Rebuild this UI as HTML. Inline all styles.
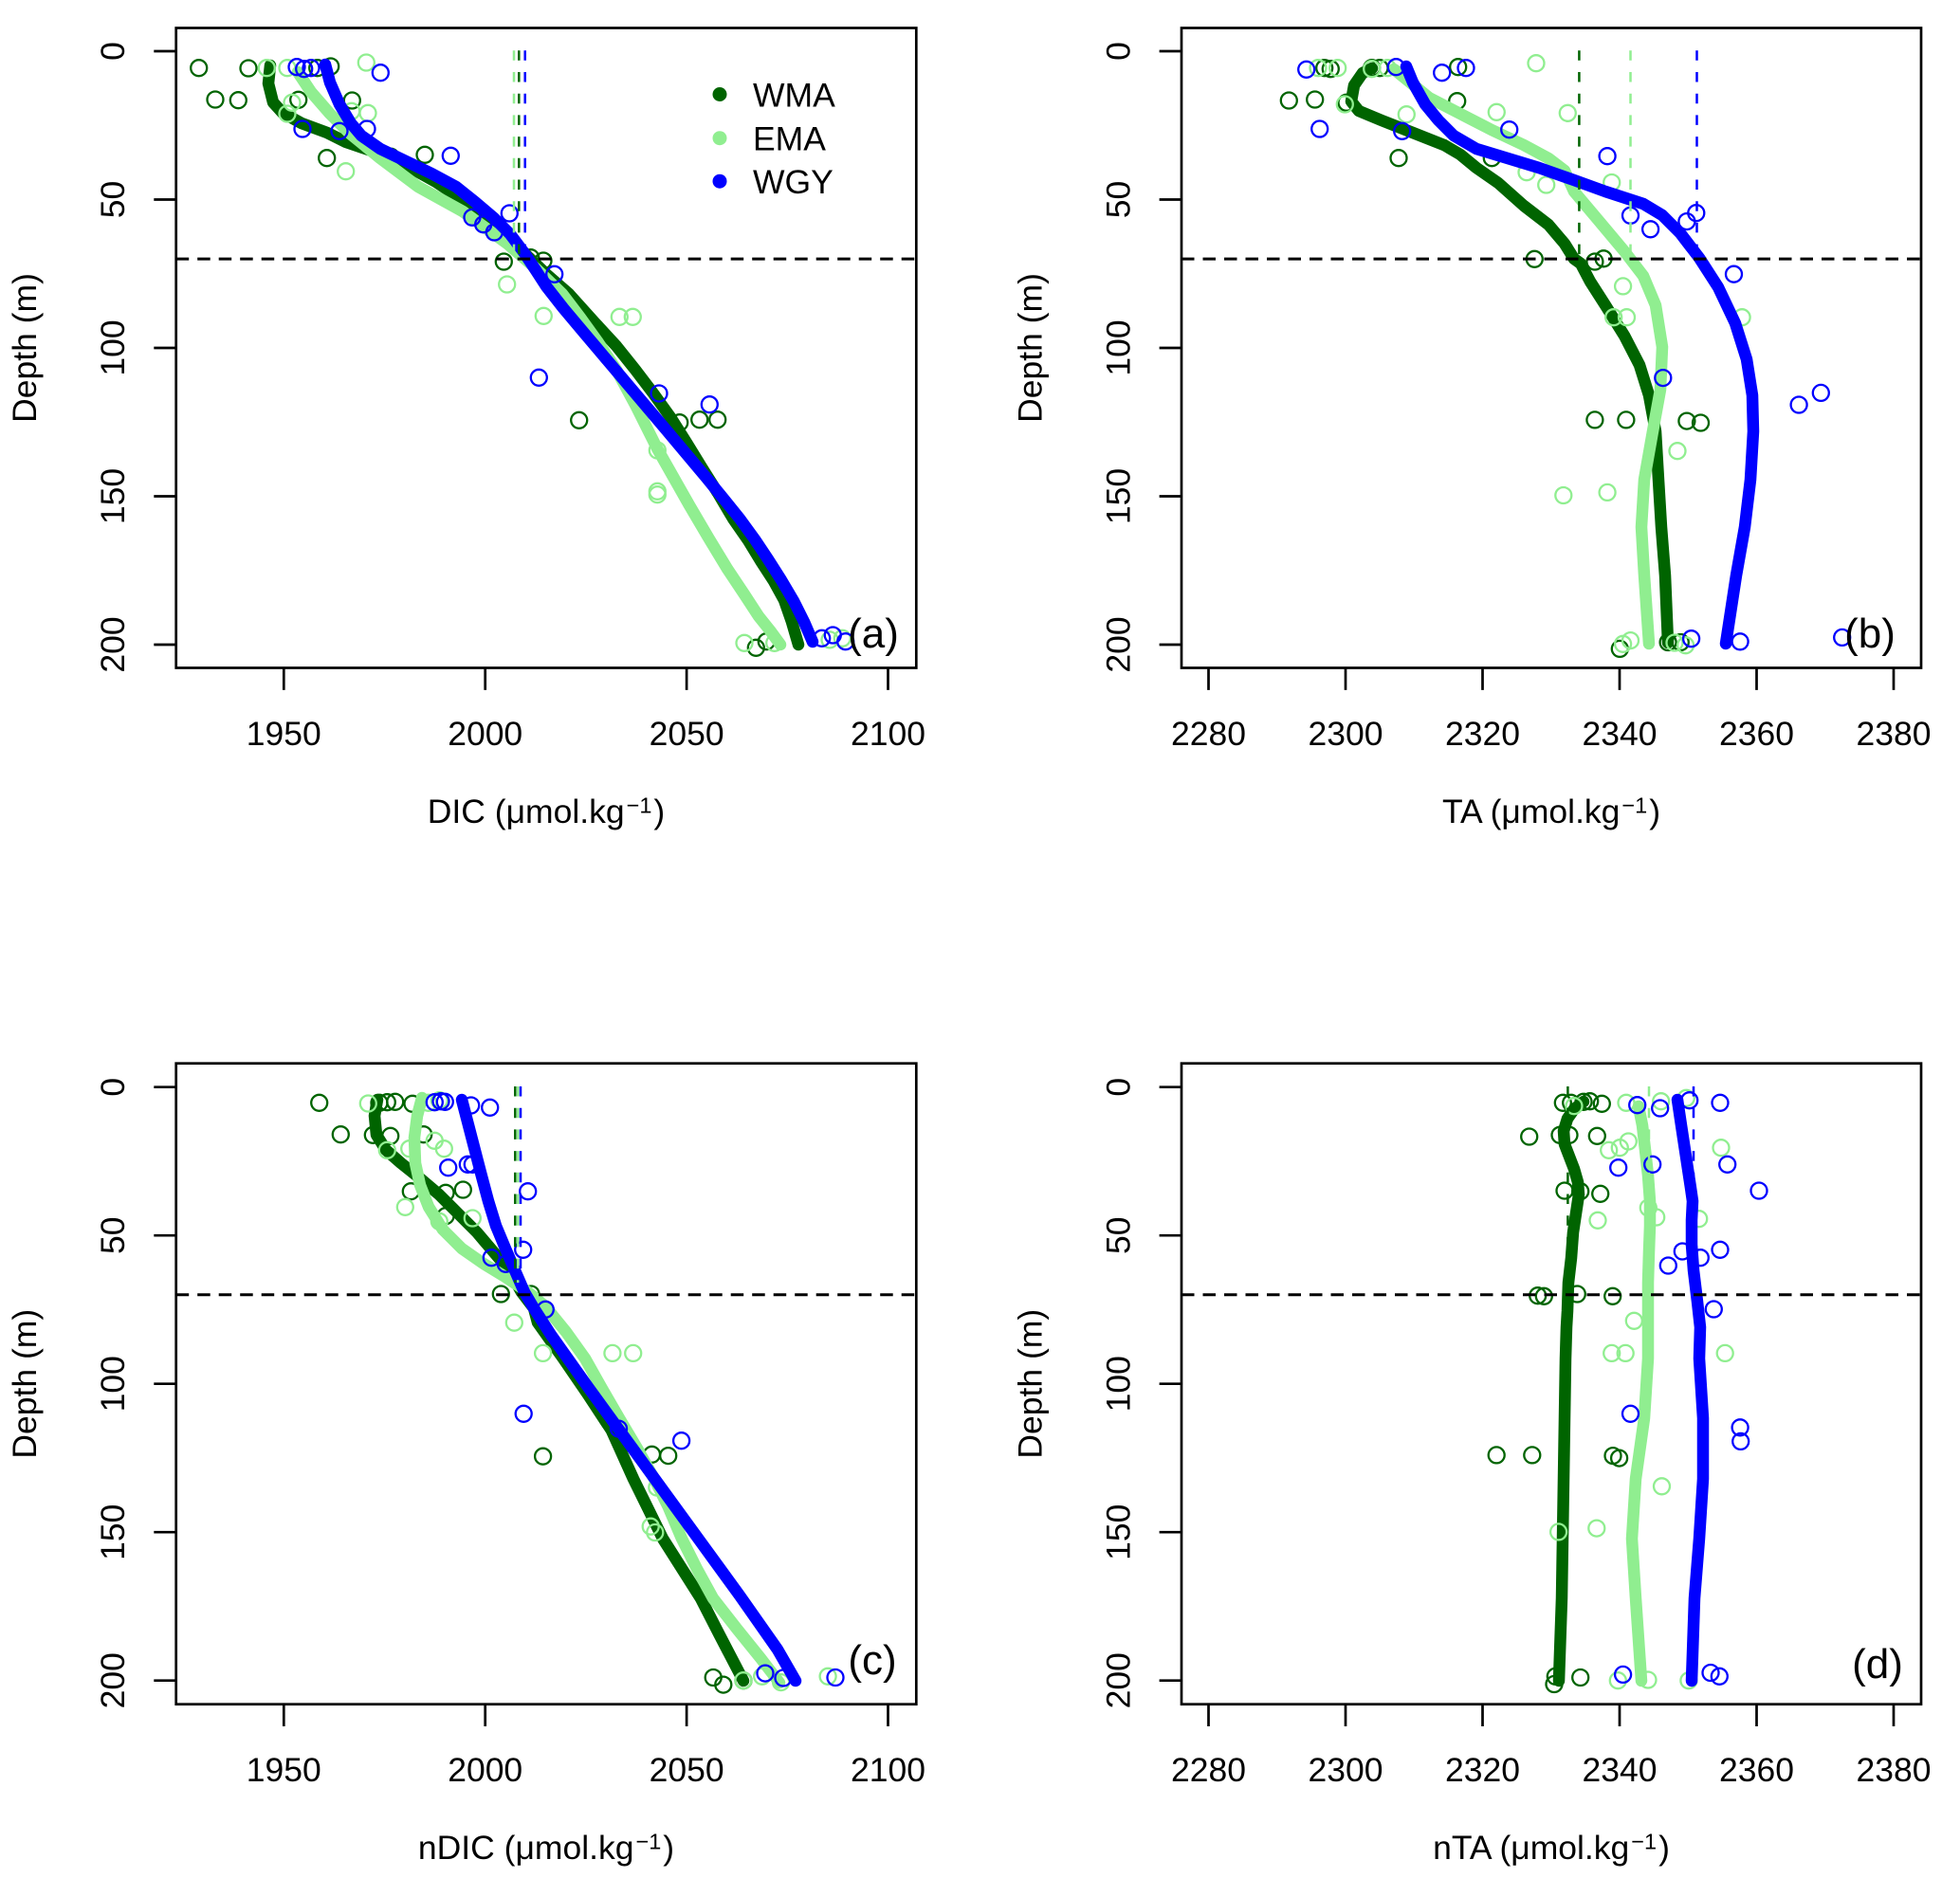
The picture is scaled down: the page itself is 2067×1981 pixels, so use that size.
<!DOCTYPE html>
<html><head><meta charset="utf-8"><style>
html,body{margin:0;padding:0;background:#fff}
svg{display:block}
text{font-family:"Liberation Sans",Arial,sans-serif;fill:#000}
.pdg{fill:none;stroke:#006400;stroke-width:2.3}
.plg{fill:none;stroke:#90EE90;stroke-width:2.3}
.pb{fill:none;stroke:#0000FF;stroke-width:2.3}
.cdg{fill:none;stroke:#006400;stroke-width:12.5;stroke-linecap:round;stroke-linejoin:round}
.clg{fill:none;stroke:#90EE90;stroke-width:12.5;stroke-linecap:round;stroke-linejoin:round}
.cb{fill:none;stroke:#0000FF;stroke-width:12.5;stroke-linecap:round;stroke-linejoin:round}
.hd{stroke:#000;stroke-width:3;stroke-dasharray:13.5 9;fill:none}
.vd{stroke-width:2.5;stroke-dasharray:10.5 12.2;fill:none}
.ax{stroke:#000;stroke-width:2.7;fill:none}
.tl{font-size:35.5px}
</style></head><body>
<svg width="2067" height="1981" viewBox="0 0 2067 1981" xmlns="http://www.w3.org/2000/svg">
<rect width="2067" height="1981" fill="#fff"/>

<!-- ================= PANEL A ================= -->
<g class="pdg">
<circle cx="209.7" cy="71.7" r="8.5"/><circle cx="262" cy="72" r="8.5"/><circle cx="334.7" cy="71.7" r="8.5"/><circle cx="348.7" cy="70" r="8.5"/>
<circle cx="227" cy="105" r="8.5"/><circle cx="251.3" cy="105.7" r="8.5"/><circle cx="314.7" cy="105.3" r="8.5"/><circle cx="371.3" cy="106" r="8.5"/>
<circle cx="344.7" cy="166.7" r="8.5"/><circle cx="448" cy="163.3" r="8.5"/><circle cx="412.2" cy="165.3" r="8.5"/>
<circle cx="531.3" cy="276" r="8.5"/><circle cx="559.7" cy="271.7" r="8.5"/><circle cx="573" cy="275" r="8.5"/>
<circle cx="610.7" cy="443.3" r="8.5"/><circle cx="716.7" cy="445.7" r="8.5"/><circle cx="737.7" cy="442.7" r="8.5"/><circle cx="756.7" cy="442.7" r="8.5"/>
<circle cx="797.3" cy="683.3" r="8.5"/><circle cx="808.3" cy="676.7" r="8.5"/>
</g>
<polyline class="cdg" points="285,69 283,88 288,108 298,119 318,130 345,140 365,150 415,167 460,192 505,222 531,245 553,267 577,290 600,310 627,340 650,365 670,390 689,415 707,440 724,467 740,493 757,520 773,547 789,570 803,593 816,613 827,633 835,656 842,680"/>
<g class="plg">
<circle cx="281.3" cy="71.7" r="8.5"/><circle cx="303" cy="71.7" r="8.5"/><circle cx="386.3" cy="66" r="8.5"/>
<circle cx="308" cy="108.3" r="8.5"/><circle cx="303" cy="120" r="8.5"/><circle cx="388" cy="119.3" r="8.5"/><circle cx="370.7" cy="117.3" r="8.5"/>
<circle cx="364.7" cy="180.7" r="8.5"/><circle cx="534.7" cy="300" r="8.5"/><circle cx="573.3" cy="333.3" r="8.5"/>
<circle cx="653.3" cy="334.3" r="8.5"/><circle cx="667.3" cy="334.3" r="8.5"/><circle cx="693.3" cy="475" r="8.5"/>
<circle cx="693.3" cy="518.3" r="8.5"/><circle cx="693.3" cy="521.7" r="8.5"/>
<circle cx="785" cy="678.3" r="8.5"/><circle cx="816.7" cy="678.3" r="8.5"/><circle cx="875" cy="674.9" r="8.5"/><circle cx="888.3" cy="673.3" r="8.5"/>
</g>
<polyline class="clg" points="314,76 328,97 348,120 368,140 401,167 441,197 488,223 535,257 565,283 593,310 612,335 630,360 650,390 670,427 693,473 710,503 727,533 747,567 767,600 785,627 800,650 812,665 823,680"/>
<g class="pb">
<circle cx="313" cy="70.7" r="8.5"/><circle cx="320.7" cy="72.7" r="8.5"/><circle cx="328" cy="71.7" r="8.5"/><circle cx="401.3" cy="76.7" r="8.5"/>
<circle cx="319" cy="136" r="8.5"/><circle cx="358" cy="138.3" r="8.5"/><circle cx="387" cy="136" r="8.5"/><circle cx="475.3" cy="164.3" r="8.5"/>
<circle cx="537.3" cy="225" r="8.5"/><circle cx="498" cy="229.3" r="8.5"/><circle cx="509.7" cy="236.7" r="8.5"/><circle cx="521.3" cy="245" r="8.5"/>
<circle cx="584.7" cy="289.3" r="8.5"/><circle cx="568.3" cy="398.3" r="8.5"/><circle cx="695" cy="415" r="8.5"/><circle cx="748.3" cy="426.7" r="8.5"/>
<circle cx="866.7" cy="673.3" r="8.5"/><circle cx="878.3" cy="670" r="8.5"/><circle cx="891.7" cy="676.7" r="8.5"/>
</g>
<polyline class="cb" points="343,68 348,87 358,110 370,130 381,143 401,157 428,170 455,183 481,197 501,213 521,230 538,247 553,267 565,285 576,302 594,325 615,350 637,376 659,402 681,428 703,454 724,479 745,504 763,526 780,547 796,569 810,590 824,612 837,634 848,656 857,677"/>
<line class="vd" x1="542" y1="53.3" x2="542" y2="273" stroke="#90EE90"/>
<line class="vd" x1="547.3" y1="53.3" x2="547.3" y2="273" stroke="#006400"/>
<line class="vd" x1="553.7" y1="53.3" x2="553.7" y2="273" stroke="#0000FF"/>
<line class="hd" x1="185.7" y1="273.1" x2="966.3" y2="273.1"/>
<rect class="ax" x="185.7" y="29.5" width="780.6" height="675"/>
<path class="ax" d="M299.3,704.5V727.9M511.7,704.5V727.9M724.1,704.5V727.9M936.5,704.5V727.9M162.3,54H185.7M162.3,210.5H185.7M162.3,367H185.7M162.3,523.5H185.7M162.3,680H185.7"/>
<g class="tl" text-anchor="middle">
<text x="299.3" y="786">1950</text><text x="511.7" y="786">2000</text><text x="724.1" y="786">2050</text><text x="936.5" y="786">2100</text>
<text x="131" y="54" transform="rotate(-90 131 54)">0</text>
<text x="131" y="210.5" transform="rotate(-90 131 210.5)">50</text>
<text x="131" y="367" transform="rotate(-90 131 367)">100</text>
<text x="131" y="523.5" transform="rotate(-90 131 523.5)">150</text>
<text x="131" y="680" transform="rotate(-90 131 680)">200</text>
<text x="38" y="367" transform="rotate(-90 38 367)">Depth (m)</text>
<text x="576" y="868">DIC (μmol.kg<tspan dx="2" dy="-10.5" font-size="23.5">−1</tspan><tspan dx="2" dy="10.5">)</tspan></text>
</g>
<text x="921" y="683" font-size="44" text-anchor="middle">(a)</text>
<circle cx="759" cy="99.5" r="7.5" fill="#006400"/>
<circle cx="759" cy="145.7" r="7.5" fill="#90EE90"/>
<circle cx="759" cy="191.2" r="7.5" fill="#0000FF"/>
<g class="tl"><text x="794" y="112.5">WMA</text><text x="794" y="158.7">EMA</text><text x="794" y="204.2">WGY</text></g>

<!-- ================= PANEL B ================= -->
<g class="pdg">
<circle cx="1359.3" cy="106" r="8.5"/><circle cx="1386.7" cy="105" r="8.5"/><circle cx="1396.7" cy="71.7" r="8.5"/><circle cx="1403.3" cy="72.7" r="8.5"/>
<circle cx="1446.7" cy="71.7" r="8.5"/><circle cx="1455" cy="71.7" r="8.5"/><circle cx="1420" cy="108.3" r="8.5"/><circle cx="1536.7" cy="106.7" r="8.5"/>
<circle cx="1537.7" cy="70.7" r="8.5"/><circle cx="1475" cy="166.7" r="8.5"/><circle cx="1573.3" cy="166.7" r="8.5"/><circle cx="1618.3" cy="273.3" r="8.5"/>
<circle cx="1681.9" cy="276" r="8.5"/><circle cx="1691.1" cy="272.8" r="8.5"/><circle cx="1681.9" cy="442.9" r="8.5"/><circle cx="1714.9" cy="442.9" r="8.5"/>
<circle cx="1778.9" cy="444.1" r="8.5"/><circle cx="1793.5" cy="446" r="8.5"/><circle cx="1708.3" cy="684.4" r="8.5"/><circle cx="1759.1" cy="677.5" r="8.5"/><circle cx="1772.3" cy="677.5" r="8.5"/>
</g>
<polyline class="cdg" points="1447,72 1437,77 1428,90 1425,107 1433,117 1457,127 1490,140 1523,153 1540,163 1557,177 1580,193 1607,217 1633,237 1650,257 1660,273 1667,278 1677,297 1693,322 1713,354 1729,385 1739,417 1746,455 1749,506 1752,556 1756,607 1759,678"/>
<g class="plg">
<circle cx="1390" cy="71.7" r="8.5"/><circle cx="1410.7" cy="71.7" r="8.5"/><circle cx="1418.3" cy="110" r="8.5"/><circle cx="1446.7" cy="72.7" r="8.5"/>
<circle cx="1463.3" cy="71.7" r="8.5"/><circle cx="1483.3" cy="120.7" r="8.5"/><circle cx="1578.3" cy="118.3" r="8.5"/><circle cx="1620" cy="66.7" r="8.5"/>
<circle cx="1653.3" cy="119.3" r="8.5"/><circle cx="1610" cy="181.7" r="8.5"/><circle cx="1630.7" cy="195" r="8.5"/><circle cx="1699.7" cy="192.5" r="8.5"/>
<circle cx="1711.6" cy="301.9" r="8.5"/><circle cx="1701.7" cy="334.7" r="8.5"/><circle cx="1715.5" cy="334.7" r="8.5"/><circle cx="1837.1" cy="334.7" r="8.5"/>
<circle cx="1769" cy="475.7" r="8.5"/><circle cx="1648.8" cy="522.5" r="8.5"/><circle cx="1695.1" cy="519.4" r="8.5"/>
<circle cx="1711.6" cy="679.3" r="8.5"/><circle cx="1719.5" cy="675.6" r="8.5"/><circle cx="1777.6" cy="680.7" r="8.5"/><circle cx="1766" cy="678" r="8.5"/>
</g>
<polyline class="clg" points="1470,73 1507,103 1540,120 1573,137 1607,153 1633,167 1650,180 1660,202 1687,234 1713,265 1733,291 1746,322 1753,366 1751,411 1743,455 1734,506 1731,556 1734,607 1739,679"/>
<g class="pb">
<circle cx="1377.7" cy="73.3" r="8.5"/><circle cx="1391.7" cy="136" r="8.5"/><circle cx="1472.3" cy="70.7" r="8.5"/><circle cx="1478.7" cy="138.3" r="8.5"/>
<circle cx="1520.7" cy="76.7" r="8.5"/><circle cx="1546" cy="71.7" r="8.5"/><circle cx="1591.7" cy="136.7" r="8.5"/><circle cx="1695.1" cy="164.7" r="8.5"/>
<circle cx="1719.5" cy="227.3" r="8.5"/><circle cx="1740.6" cy="241.8" r="8.5"/><circle cx="1778.9" cy="233.6" r="8.5"/><circle cx="1788.8" cy="224.7" r="8.5"/>
<circle cx="1828.5" cy="289.2" r="8.5"/><circle cx="1753.8" cy="398.6" r="8.5"/><circle cx="1897.1" cy="427" r="8.5"/><circle cx="1920.3" cy="414.4" r="8.5"/>
<circle cx="1783.6" cy="673.7" r="8.5"/><circle cx="1835.1" cy="676.8" r="8.5"/><circle cx="1942.7" cy="672.4" r="8.5"/>
</g>
<polyline class="cb" points="1483,70 1490,87 1503,110 1517,127 1533,143 1557,157 1590,167 1623,177 1660,190 1693,202 1733,215 1753,227 1772,246 1792,272 1812,303 1830,341 1842,379 1848,417 1849,455 1846,506 1840,556 1831,607 1820,679"/>
<line class="vd" x1="1665.4" y1="53.3" x2="1665.4" y2="273" stroke="#006400"/>
<line class="vd" x1="1719.5" y1="53.3" x2="1719.5" y2="273" stroke="#90EE90"/>
<line class="vd" x1="1789.5" y1="53.3" x2="1789.5" y2="273" stroke="#0000FF"/>
<line class="hd" x1="1246" y1="273.1" x2="2026" y2="273.1"/>
<rect class="ax" x="1246" y="29.5" width="780" height="675"/>
<path class="ax" d="M1274.5,704.5V727.9M1419,704.5V727.9M1563.5,704.5V727.9M1708,704.5V727.9M1852.5,704.5V727.9M1997,704.5V727.9M1222.6,54H1246M1222.6,210.5H1246M1222.6,367H1246M1222.6,523.5H1246M1222.6,680H1246"/>
<g class="tl" text-anchor="middle">
<text x="1274.5" y="786">2280</text><text x="1419" y="786">2300</text><text x="1563.5" y="786">2320</text><text x="1708" y="786">2340</text><text x="1852.5" y="786">2360</text><text x="1997" y="786">2380</text>
<text x="1191.3" y="54" transform="rotate(-90 1191.3 54)">0</text>
<text x="1191.3" y="210.5" transform="rotate(-90 1191.3 210.5)">50</text>
<text x="1191.3" y="367" transform="rotate(-90 1191.3 367)">100</text>
<text x="1191.3" y="523.5" transform="rotate(-90 1191.3 523.5)">150</text>
<text x="1191.3" y="680" transform="rotate(-90 1191.3 680)">200</text>
<text x="1098.3" y="367" transform="rotate(-90 1098.3 367)">Depth (m)</text>
<text x="1636" y="868">TA (μmol.kg<tspan dx="2" dy="-10.5" font-size="23.5">−1</tspan><tspan dx="2" dy="10.5">)</tspan></text>
</g>
<text x="1972" y="683" font-size="44" text-anchor="middle">(b)</text>

<!-- ================= PANEL C ================= -->
<g class="pdg">
<circle cx="336.7" cy="1163.3" r="8.5"/><circle cx="400" cy="1163.3" r="8.5"/><circle cx="408.3" cy="1162.7" r="8.5"/><circle cx="416.7" cy="1162.3" r="8.5"/>
<circle cx="435" cy="1164.3" r="8.5"/><circle cx="359.3" cy="1196.7" r="8.5"/><circle cx="393.3" cy="1197.3" r="8.5"/><circle cx="411.7" cy="1198.3" r="8.5"/>
<circle cx="446.7" cy="1196.7" r="8.5"/><circle cx="433.3" cy="1256.7" r="8.5"/><circle cx="470" cy="1258.3" r="8.5"/><circle cx="488.3" cy="1255" r="8.5"/>
<circle cx="470" cy="1282.7" r="8.5"/><circle cx="528.3" cy="1365" r="8.5"/><circle cx="560" cy="1365" r="8.5"/><circle cx="572.6" cy="1536.2" r="8.5"/>
<circle cx="687.5" cy="1534.3" r="8.5"/><circle cx="704.7" cy="1535.6" r="8.5"/><circle cx="752.2" cy="1769.5" r="8.5"/><circle cx="762.8" cy="1777.1" r="8.5"/><circle cx="784" cy="1772.7" r="8.5"/>
</g>
<polyline class="cdg" points="398,1160 395,1177 397,1197 407,1213 423,1227 443,1243 463,1260 483,1280 503,1300 520,1320 537,1340 550,1363 563,1380 567,1395 594,1433 620,1471 645,1509 668,1560 699,1623 739,1686 759,1725 784,1773"/>
<g class="plg">
<circle cx="388.3" cy="1164" r="8.5"/><circle cx="451.7" cy="1163.3" r="8.5"/><circle cx="463.3" cy="1160.7" r="8.5"/><circle cx="408.3" cy="1213.3" r="8.5"/>
<circle cx="431.7" cy="1211.7" r="8.5"/><circle cx="458.3" cy="1203.3" r="8.5"/><circle cx="468.3" cy="1211.7" r="8.5"/><circle cx="427.3" cy="1273.3" r="8.5"/>
<circle cx="463.3" cy="1288.3" r="8.5"/><circle cx="498.3" cy="1285" r="8.5"/><circle cx="542.3" cy="1395.2" r="8.5"/><circle cx="572.6" cy="1427.4" r="8.5"/>
<circle cx="645.9" cy="1427.4" r="8.5"/><circle cx="667.7" cy="1427.4" r="8.5"/><circle cx="692.8" cy="1569.1" r="8.5"/><circle cx="686.2" cy="1610.2" r="8.5"/>
<circle cx="690.8" cy="1616.5" r="8.5"/><circle cx="803.7" cy="1768.3" r="8.5"/><circle cx="823.6" cy="1774.6" r="8.5"/><circle cx="873.1" cy="1768.3" r="8.5"/><circle cx="783.9" cy="1772.7" r="8.5"/>
</g>
<polyline class="clg" points="445,1158 440,1177 437,1200 438,1227 443,1250 452,1273 467,1297 487,1317 510,1333 533,1347 557,1363 575,1378 597,1405 617,1433 635,1465 653,1496 672,1528 690,1560 705,1590 719,1623 735,1655 752,1686 777,1718 802,1749 822,1775"/>
<g class="pb">
<circle cx="458.3" cy="1162.7" r="8.5"/><circle cx="465" cy="1161.7" r="8.5"/><circle cx="469.3" cy="1162.3" r="8.5"/><circle cx="496.7" cy="1166" r="8.5"/>
<circle cx="516.7" cy="1168.3" r="8.5"/><circle cx="472.7" cy="1231.7" r="8.5"/><circle cx="493.3" cy="1228.3" r="8.5"/><circle cx="498.3" cy="1228.3" r="8.5"/>
<circle cx="556.7" cy="1256.7" r="8.5"/><circle cx="518.3" cy="1326.7" r="8.5"/><circle cx="533.3" cy="1333.3" r="8.5"/><circle cx="551.7" cy="1318.3" r="8.5"/>
<circle cx="575.3" cy="1381.3" r="8.5"/><circle cx="552.2" cy="1491.3" r="8.5"/><circle cx="652.5" cy="1507.1" r="8.5"/><circle cx="718.6" cy="1519.7" r="8.5"/>
<circle cx="807" cy="1765.1" r="8.5"/><circle cx="881" cy="1769.5" r="8.5"/><circle cx="826" cy="1770" r="8.5"/>
</g>
<polyline class="cb" points="487,1160 493,1183 500,1210 507,1237 515,1267 523,1293 533,1317 543,1340 553,1363 563,1380 581,1408 620,1463 660,1518 700,1573 740,1628 780,1683 820,1740 839,1773"/>
<line class="vd" x1="543.3" y1="1146" x2="543.3" y2="1353" stroke="#006400"/>
<line class="vd" x1="546.2" y1="1146" x2="546.2" y2="1353" stroke="#90EE90"/>
<line class="vd" x1="549" y1="1146" x2="549" y2="1353" stroke="#0000FF"/>
<line class="hd" x1="185.7" y1="1365.8" x2="966.3" y2="1365.8"/>
<rect class="ax" x="185.7" y="1121.7" width="780.6" height="676"/>
<path class="ax" d="M299.3,1797.7V1821M511.7,1797.7V1821M724.1,1797.7V1821M936.5,1797.7V1821M162.3,1146.7H185.7M162.3,1303.2H185.7M162.3,1459.7H185.7M162.3,1616.2H185.7M162.3,1772.7H185.7"/>
<g class="tl" text-anchor="middle">
<text x="299.3" y="1879">1950</text><text x="511.7" y="1879">2000</text><text x="724.1" y="1879">2050</text><text x="936.5" y="1879">2100</text>
<text x="131" y="1146.7" transform="rotate(-90 131 1146.7)">0</text>
<text x="131" y="1303.2" transform="rotate(-90 131 1303.2)">50</text>
<text x="131" y="1459.7" transform="rotate(-90 131 1459.7)">100</text>
<text x="131" y="1616.2" transform="rotate(-90 131 1616.2)">150</text>
<text x="131" y="1772.7" transform="rotate(-90 131 1772.7)">200</text>
<text x="38" y="1459.7" transform="rotate(-90 38 1459.7)">Depth (m)</text>
<text x="576" y="1961">nDIC (μmol.kg<tspan dx="2" dy="-10.5" font-size="23.5">−1</tspan><tspan dx="2" dy="10.5">)</tspan></text>
</g>
<text x="920" y="1766" font-size="44" text-anchor="middle">(c)</text>

<!-- ================= PANEL D ================= -->
<g class="pdg">
<circle cx="1648.3" cy="1163.3" r="8.5"/><circle cx="1656.7" cy="1163.3" r="8.5"/><circle cx="1670" cy="1162.3" r="8.5"/><circle cx="1676.7" cy="1161.7" r="8.5"/>
<circle cx="1689.3" cy="1164.3" r="8.5"/><circle cx="1612.7" cy="1199" r="8.5"/><circle cx="1645" cy="1197.3" r="8.5"/><circle cx="1655" cy="1197.3" r="8.5"/>
<circle cx="1684.3" cy="1198.3" r="8.5"/><circle cx="1650" cy="1256" r="8.5"/><circle cx="1666.7" cy="1256.7" r="8.5"/><circle cx="1687.7" cy="1259.3" r="8.5"/>
<circle cx="1621.7" cy="1366.7" r="8.5"/><circle cx="1628.3" cy="1367.3" r="8.5"/><circle cx="1663.3" cy="1365" r="8.5"/><circle cx="1700.7" cy="1367.3" r="8.5"/>
<circle cx="1578.2" cy="1534.9" r="8.5"/><circle cx="1615.8" cy="1534.9" r="8.5"/><circle cx="1701" cy="1535.6" r="8.5"/><circle cx="1707.6" cy="1538.1" r="8.5"/>
<circle cx="1640.3" cy="1768.3" r="8.5"/><circle cx="1639" cy="1776.5" r="8.5"/><circle cx="1666.7" cy="1769.5" r="8.5"/>
</g>
<polyline class="cdg" points="1670,1162 1660,1170 1653,1180 1649,1193 1650,1207 1655,1220 1660,1233 1664,1247 1665,1260 1662,1280 1659,1300 1657,1327 1654,1353 1653,1383 1652,1400 1651,1433 1650,1496 1649,1560 1648,1623 1647,1686 1644,1773"/>
<g class="plg">
<circle cx="1660" cy="1166.7" r="8.5"/><circle cx="1715" cy="1163.3" r="8.5"/><circle cx="1751.7" cy="1161.7" r="8.5"/><circle cx="1778.3" cy="1158.3" r="8.5"/>
<circle cx="1696.7" cy="1213.3" r="8.5"/><circle cx="1708.3" cy="1210.7" r="8.5"/><circle cx="1717.3" cy="1204" r="8.5"/><circle cx="1815" cy="1210.7" r="8.5"/>
<circle cx="1685" cy="1287.3" r="8.5"/><circle cx="1738.3" cy="1274" r="8.5"/><circle cx="1746.7" cy="1284" r="8.5"/><circle cx="1791.7" cy="1285.7" r="8.5"/>
<circle cx="1723.3" cy="1393.3" r="8.5"/><circle cx="1699.7" cy="1427.4" r="8.5"/><circle cx="1714.2" cy="1427.4" r="8.5"/><circle cx="1819.2" cy="1427.4" r="8.5"/>
<circle cx="1752.5" cy="1567.8" r="8.5"/><circle cx="1643.6" cy="1615.9" r="8.5"/><circle cx="1683.8" cy="1612.1" r="8.5"/>
<circle cx="1706.3" cy="1772.7" r="8.5"/><circle cx="1780.9" cy="1772.7" r="8.5"/><circle cx="1738" cy="1772" r="8.5"/>
</g>
<polyline class="clg" points="1728,1167 1732,1187 1735,1213 1738,1240 1740,1267 1740,1293 1739,1320 1738,1353 1738,1393 1738,1433 1734,1496 1725,1560 1721,1623 1725,1686 1731,1773"/>
<g class="pb">
<circle cx="1726.7" cy="1165.7" r="8.5"/><circle cx="1750.7" cy="1169" r="8.5"/><circle cx="1781.7" cy="1160.7" r="8.5"/><circle cx="1814" cy="1163.3" r="8.5"/>
<circle cx="1706.7" cy="1231.7" r="8.5"/><circle cx="1742.7" cy="1228.3" r="8.5"/><circle cx="1821.7" cy="1228.3" r="8.5"/><circle cx="1855" cy="1256" r="8.5"/>
<circle cx="1759.3" cy="1335" r="8.5"/><circle cx="1774.3" cy="1320" r="8.5"/><circle cx="1793.3" cy="1326.7" r="8.5"/><circle cx="1814" cy="1318.3" r="8.5"/>
<circle cx="1807.3" cy="1381" r="8.5"/><circle cx="1719.5" cy="1491.3" r="8.5"/><circle cx="1835.1" cy="1505.8" r="8.5"/><circle cx="1835.7" cy="1520.4" r="8.5"/>
<circle cx="1711.6" cy="1766.4" r="8.5"/><circle cx="1804" cy="1764.5" r="8.5"/><circle cx="1813.3" cy="1768.3" r="8.5"/>
</g>
<polyline class="cb" points="1769,1160 1773,1187 1778,1220 1783,1253 1785,1267 1784,1287 1784,1313 1786,1340 1790,1373 1793,1400 1792,1433 1796,1496 1796,1560 1792,1623 1787,1686 1784,1773"/>
<line class="vd" x1="1653.4" y1="1146" x2="1653.4" y2="1320" stroke="#006400"/>
<line class="vd" x1="1739" y1="1146" x2="1739" y2="1320" stroke="#90EE90"/>
<line class="vd" x1="1786" y1="1146" x2="1786" y2="1320" stroke="#0000FF"/>
<line class="hd" x1="1246" y1="1365.8" x2="2026" y2="1365.8"/>
<rect class="ax" x="1246" y="1121.7" width="780" height="676"/>
<path class="ax" d="M1274.5,1797.7V1821M1419,1797.7V1821M1563.5,1797.7V1821M1708,1797.7V1821M1852.5,1797.7V1821M1997,1797.7V1821M1222.6,1146.7H1246M1222.6,1303.2H1246M1222.6,1459.7H1246M1222.6,1616.2H1246M1222.6,1772.7H1246"/>
<g class="tl" text-anchor="middle">
<text x="1274.5" y="1879">2280</text><text x="1419" y="1879">2300</text><text x="1563.5" y="1879">2320</text><text x="1708" y="1879">2340</text><text x="1852.5" y="1879">2360</text><text x="1997" y="1879">2380</text>
<text x="1191.3" y="1146.7" transform="rotate(-90 1191.3 1146.7)">0</text>
<text x="1191.3" y="1303.2" transform="rotate(-90 1191.3 1303.2)">50</text>
<text x="1191.3" y="1459.7" transform="rotate(-90 1191.3 1459.7)">100</text>
<text x="1191.3" y="1616.2" transform="rotate(-90 1191.3 1616.2)">150</text>
<text x="1191.3" y="1772.7" transform="rotate(-90 1191.3 1772.7)">200</text>
<text x="1098.3" y="1459.7" transform="rotate(-90 1098.3 1459.7)">Depth (m)</text>
<text x="1636" y="1961">nTA (μmol.kg<tspan dx="2" dy="-10.5" font-size="23.5">−1</tspan><tspan dx="2" dy="10.5">)</tspan></text>
</g>
<text x="1980" y="1770" font-size="44" text-anchor="middle">(d)</text>
</svg>
</body></html>
